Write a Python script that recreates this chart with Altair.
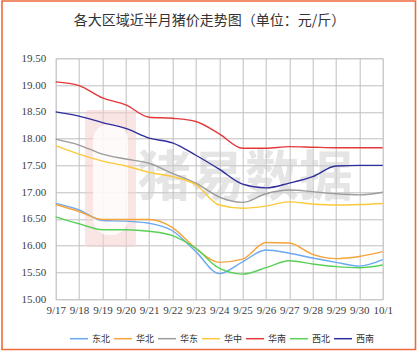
import altair as alt
import pandas as pd

dates = ["9/17", "9/18", "9/19", "9/20", "9/21", "9/22", "9/23", "9/24",
         "9/25", "9/26", "9/27", "9/28", "9/29", "9/30", "10/1"]

series_names = ["东北", "华北", "华东", "华中", "华南", "西北", "西南"]
series_colors = ["#6AA8F2", "#F7A33C", "#9C9C9C", "#FCC93A", "#E5383B", "#58D158", "#2E2E9C"]

dongbei = [16.79, 16.67, 16.47, 16.46, 16.42, 16.28, 15.89, 15.48, 15.70, 15.92, 15.86, 15.77, 15.69, 15.62, 15.74]
huabei = [16.77, 16.64, 16.49, 16.49, 16.49, 16.34, 15.95, 15.69, 15.75, 16.06, 16.05, 15.84, 15.76, 15.80, 15.89]
huadong = [17.99, 17.88, 17.71, 17.62, 17.54, 17.35, 17.17, 16.91, 16.81, 16.97, 17.04, 17.01, 16.97, 16.95, 17.00]
huazhong = [17.87, 17.71, 17.58, 17.49, 17.37, 17.29, 17.14, 16.76, 16.70, 16.74, 16.82, 16.78, 16.76, 16.77, 16.79]
huanan = [19.06, 18.99, 18.76, 18.63, 18.40, 18.38, 18.32, 18.09, 17.82, 17.82, 17.85, 17.84, 17.83, 17.83, 17.83]
xibei = [16.54, 16.41, 16.30, 16.30, 16.27, 16.19, 15.95, 15.58, 15.47, 15.59, 15.72, 15.66, 15.61, 15.59, 15.64]
xinan = [18.50, 18.42, 18.30, 18.19, 18.01, 17.92, 17.69, 17.43, 17.15, 17.08, 17.17, 17.29, 17.49, 17.50, 17.50]

y_ticks = [15.0, 15.5, 16.0, 16.5, 17.0, 17.5, 18.0, 18.5, 19.0, 19.5]

title_text = "各大区域近半月猪价走势图（单位：元/斤）"
watermark_text = "猪易数据"

all_series = [dongbei, huabei, huadong, huazhong, huanan, xibei, xinan]
rows = []
for name, vals in zip(series_names, all_series):
    for i, (d, v) in enumerate(zip(dates, vals)):
        rows.append({"date": d, "region": name, "price": v, "idx": i})
df = pd.DataFrame(rows)

W, H = 327, 241
PL, PT = 55.7, 58.3
label_font = "Liberation Serif, Noto Sans CJK SC"

one = pd.DataFrame({"k": [0]})

# background watermark (logo + text)
logo = alt.Chart(one).mark_rect(fill="#F6CFCF", opacity=0.55, cornerRadius=4).encode(
    x=alt.value(85 - PL), x2=alt.value(136 - PL), y=alt.value(110 - PT), y2=alt.value(247 - PT))
logo_inner = alt.Chart(one).mark_rect(fill="white", opacity=0.8, cornerRadius=16).encode(
    x=alt.value(93 - PL), x2=alt.value(128 - PL), y=alt.value(124 - PT), y2=alt.value(235 - PT))
wm_text = alt.Chart(one).mark_text(
    text=watermark_text, font="Noto Sans CJK SC", fontSize=54, fontWeight="bold",
    color="#CCCCCC", opacity=0.5, align="center", baseline="middle"
).encode(x=alt.value(245 - PL), y=alt.value(180 - PT))

lines = alt.Chart(df).mark_line(interpolate="monotone", strokeWidth=1.4).encode(
    x=alt.X("date:O", sort=dates, scale=alt.Scale(type="point", padding=0),
            axis=alt.Axis(title=None, labelAngle=0, grid=True, ticks=False, domain=False,
                          labelPadding=5, labelFont=label_font, labelFontSize=11,
                          labelColor="#404040", gridColor="#BFBFBF", gridWidth=1)),
    y=alt.Y("price:Q", scale=alt.Scale(domain=[15, 19.5], nice=False, zero=False),
            axis=alt.Axis(title=None, values=y_ticks, format=".2f", grid=True, ticks=False,
                          domain=False, labelPadding=10, labelFont=label_font, labelFontSize=11,
                          labelColor="#404040", gridColor="#BFBFBF", gridWidth=1)),
    color=alt.Color("region:N", scale=alt.Scale(domain=series_names, range=series_colors),
                    sort=series_names,
                    legend=alt.Legend(title=None, orient="none", direction="horizontal",
                                      legendX=69 - PL, legendY=328.7 - PT,
                                      symbolType="stroke", symbolSize=324, symbolStrokeWidth=1.5,
                                      labelFont="Noto Sans CJK SC", labelFontSize=9,
                                      labelColor="#333333", labelOffset=3, columnPadding=0)),
    order=alt.Order("idx:Q"),
)

title = alt.Chart(one).mark_text(
    text=title_text, font="Noto Sans CJK SC", fontSize=14, color="#333333",
    align="center", baseline="middle"
).encode(x=alt.value(209.5 - PL), y=alt.value(21 - PT))

frame = alt.Chart(one).mark_rect(fill=None, stroke="#EE6A3C", strokeWidth=1.6).encode(
    x=alt.value(2 - PL), x2=alt.value(415.5 - PL), y=alt.value(1 - PT), y2=alt.value(349.5 - PT))

chart = alt.layer(logo, logo_inner, wm_text, lines, title, frame).properties(
    width=W, height=H,
    padding={"left": PL, "top": PT, "right": 420 - PL - W, "bottom": 352 - PT - H},
    autosize=alt.AutoSizeParams(type="none"),
).configure_view(stroke=None).configure(background="white")

chart.save("out.html", embed_options={"renderer": "svg", "actions": False})
